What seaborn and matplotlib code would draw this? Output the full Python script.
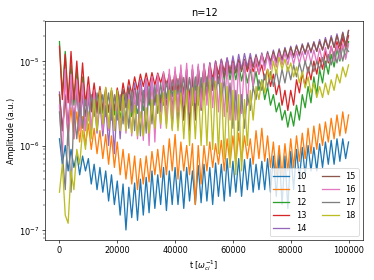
import matplotlib
matplotlib.use("Agg")
import matplotlib.pyplot as plt
import numpy as np
import pandas as pd
import seaborn as sns

# time grid, one sample every 1000 1/omega_ci
t = np.arange(0, 100001, 1000)

# amplitudes in units of 1e-6 a.u.
amp_10 = [1.2, 0.6, 1.0, 0.5, 0.9, 0.55, 0.8, 0.45, 0.75, 0.5,
          0.7, 0.35, 0.6, 0.3, 0.55, 0.28, 0.5, 0.22, 0.45, 0.2,
          0.38, 0.15, 0.35, 0.1, 0.32, 0.14, 0.36, 0.13, 0.4, 0.15,
          0.42, 0.16, 0.5, 0.18, 0.45, 0.2, 0.55, 0.17, 0.5, 0.2,
          0.55, 0.2, 0.5, 0.18, 0.55, 0.22, 0.5, 0.2, 0.58, 0.21,
          0.6, 0.22, 0.55, 0.2, 0.62, 0.25, 0.6, 0.22, 0.7, 0.25,
          0.65, 0.28, 0.7, 0.25, 0.68, 0.3, 0.7, 0.28, 0.6, 0.3,
          0.65, 0.3, 0.7, 0.28, 0.75, 0.25, 0.8, 0.2, 0.75, 0.18,
          0.85, 0.3, 0.9, 0.4, 0.95, 0.45, 1.0, 0.5, 0.95, 0.5,
          1.05, 0.55, 1.1, 0.6, 1.15, 0.6, 1.2, 0.65, 1.2, 0.7,
          1.1]
amp_11 = [4.0, 1.5, 3.5, 1.3, 2.8, 1.2, 2.5, 1.1, 2.2, 1.0,
          1.8, 0.9, 1.6, 0.8, 1.5, 0.7, 1.35, 0.6, 1.3, 0.55,
          1.1, 0.45, 0.9, 0.4, 0.8, 0.35, 0.75, 0.3, 0.7, 0.35,
          0.75, 0.37, 0.85, 0.45, 0.9, 0.42, 1.0, 0.45, 1.2, 0.5,
          1.35, 0.4, 1.1, 0.5, 1.0, 0.45, 1.05, 0.2, 1.0, 0.35,
          1.0, 0.5, 1.1, 0.55, 1.05, 0.6, 1.15, 0.5, 1.2, 0.6,
          1.3, 0.6, 1.4, 0.65, 1.3, 0.7, 1.2, 0.6, 1.5, 0.7,
          1.6, 0.65, 1.3, 0.55, 1.1, 0.45, 1.0, 0.43, 1.05, 0.5,
          1.2, 0.55, 1.3, 0.65, 1.4, 0.7, 1.6, 0.8, 1.7, 0.9,
          1.8, 1.0, 1.9, 1.1, 2.1, 1.2, 2.3, 1.3, 2.5, 1.4,
          2.3]
amp_12 = [17, 4.0, 13, 3.5, 9.0, 3.0, 8.0, 3.0, 6.5, 3.0,
          5.0, 2.6, 4.5, 2.5, 4.2, 2.4, 4.0, 2.5, 3.8, 2.3,
          3.6, 2.1, 3.5, 2.0, 3.4, 2.2, 3.5, 2.4, 3.8, 2.6,
          4.5, 3.0, 5.0, 3.2, 5.5, 3.5, 6.0, 3.6, 6.2, 3.8,
          6.5, 4.0, 7.0, 4.2, 7.2, 3.8, 7.5, 4.5, 8.0, 4.8,
          8.2, 5.0, 8.5, 5.5, 9.0, 5.5, 9.5, 6.0, 9.5, 6.0,
          9.0, 6.0, 9.2, 5.8, 8.5, 5.5, 8.0, 5.0, 7.5, 4.5,
          6.0, 3.5, 5.0, 3.0, 4.0, 2.5, 3.2, 2.0, 2.6, 1.65,
          2.5, 1.7, 3.0, 2.0, 4.0, 2.8, 5.0, 3.2, 6.5, 4.0,
          8.0, 5.5, 10, 7.0, 12, 8.5, 14, 10, 15, 11,
          17]
amp_13 = [15, 3.5, 12, 3.2, 13, 3.5, 10, 3.2, 9.5, 3.0,
          6.5, 3.0, 5.5, 2.8, 5.0, 2.6, 4.8, 2.5, 4.5, 2.6,
          4.8, 3.0, 5.5, 3.5, 6.0, 4.0, 6.5, 4.5, 7.0, 5.0,
          7.2, 5.0, 7.3, 5.2, 7.2, 5.5, 7.3, 5.0, 7.0, 4.5,
          7.5, 4.5, 7.8, 4.0, 8.0, 3.5, 8.0, 3.2, 8.5, 3.5,
          9.0, 5.0, 9.5, 6.0, 10, 7.0, 10.5, 7.5, 10.7, 7.7,
          10.5, 7.8, 10.5, 8.0, 10, 7.5, 10, 7.5, 9.5, 7.0,
          9.0, 6.0, 8.0, 5.0, 7.0, 4.0, 5.5, 3.0, 4.5, 2.6,
          4.5, 3.0, 6.0, 4.2, 7.2, 5.0, 8.5, 6.0, 10, 7.0,
          11, 8.0, 13, 9.5, 15, 11, 17, 13, 19, 14,
          20]
amp_14 = [4.3, 1.5, 4.0, 1.3, 5.0, 1.5, 4.5, 1.6, 4.0, 1.5,
          3.8, 1.5, 3.5, 1.4, 3.2, 1.3, 3.0, 1.0, 3.2, 0.8,
          3.5, 1.2, 4.0, 1.8, 5.0, 2.5, 5.5, 3.0, 6.0, 3.5,
          6.2, 3.5, 6.5, 3.0, 6.5, 2.5, 6.8, 1.8, 7.0, 1.6,
          7.2, 1.7, 7.5, 2.0, 7.8, 1.6, 8.0, 2.5, 8.5, 3.0,
          9.0, 3.5, 9.5, 4.5, 10, 5.5, 10.5, 6.5, 11, 7.0,
          11.5, 7.5, 12, 8.0, 12.3, 8.5, 12.3, 8.5, 12, 8.5,
          12.5, 8.5, 13, 9.0, 13.5, 9.5, 14, 10, 14.5, 10.5,
          15, 11, 15.5, 11.5, 16, 12, 16.5, 12.5, 17, 13,
          18, 13.5, 19, 14, 20, 14.5, 21, 15, 22, 15,
          23]
amp_15 = [4.0, 1.5, 3.8, 1.8, 4.5, 2.0, 4.2, 2.2, 4.5, 2.2,
          4.5, 2.5, 4.3, 2.4, 4.5, 2.6, 4.4, 2.5, 4.5, 2.6,
          4.5, 2.6, 4.6, 2.8, 4.8, 3.0, 4.7, 3.2, 4.8, 3.2,
          4.9, 3.2, 4.8, 3.3, 5.0, 3.2, 5.2, 3.0, 5.5, 2.8,
          6.0, 2.6, 6.5, 2.0, 6.8, 1.5, 7.0, 2.0, 7.5, 2.6,
          8.0, 3.5, 8.5, 4.5, 9.0, 5.5, 9.2, 6.5, 9.4, 7.2,
          9.5, 7.2, 10, 7.5, 10.5, 8.0, 11, 8.5, 11.5, 9.0,
          12, 9.5, 12.5, 10, 13, 10, 13.5, 10.5, 14, 11,
          14.5, 11.5, 15, 12, 15.5, 12.5, 16, 13, 16.5, 13,
          17, 13.5, 18, 14, 19, 14.5, 20, 15, 21.5, 15.5,
          23]
amp_16 = [3.0, 0.7, 8.0, 1.0, 7.0, 1.2, 6.0, 1.5, 5.5, 1.5,
          5.0, 1.5, 4.5, 1.6, 4.2, 1.5, 4.0, 1.5, 3.8, 1.6,
          3.7, 1.5, 3.8, 1.4, 4.0, 1.3, 4.5, 1.2, 5.0, 1.15,
          6.0, 1.0, 6.5, 1.1, 7.0, 1.6, 7.5, 2.0, 8.0, 2.2,
          8.5, 2.5, 9.0, 3.0, 9.4, 2.5, 9.0, 3.2, 9.2, 2.8,
          9.4, 3.0, 9.0, 2.8, 9.2, 2.5, 9.4, 2.2, 9.5, 2.0,
          9.4, 2.0, 9.5, 2.4, 10, 3.0, 10.5, 5.0, 11, 7.0,
          12, 7.8, 12, 8.0, 12, 8.5, 12.5, 9.0, 12.5, 9.0,
          13, 9.2, 13, 9.4, 13, 9.4, 13.5, 9.5, 13.5, 9.5,
          14, 9.8, 14.5, 10, 15, 10, 15.5, 10.5, 16, 10.5,
          16]
amp_17 = [2.5, 0.8, 0.3, 1.8, 0.28, 2.5, 1.2, 3.2, 1.6, 3.5,
          2.0, 4.0, 2.2, 4.2, 2.4, 4.0, 2.2, 4.2, 2.0, 4.0,
          2.0, 4.0, 1.8, 4.2, 1.6, 4.5, 1.5, 4.5, 1.3, 4.5,
          1.4, 5.0, 1.8, 5.2, 2.4, 5.5, 3.0, 5.8, 3.5, 6.0,
          3.8, 6.2, 4.0, 6.4, 3.5, 6.4, 3.0, 6.5, 3.0, 6.4,
          3.5, 6.5, 4.0, 6.4, 4.5, 6.2, 3.5, 6.0, 2.5, 5.5,
          1.6, 4.5, 1.5, 4.0, 1.6, 4.0, 2.6, 5.0, 3.5, 6.0,
          4.5, 7.0, 4.9, 7.5, 5.0, 7.8, 5.2, 8.0, 5.5, 8.5,
          6.0, 9.0, 6.5, 9.5, 7.0, 10, 7.2, 10, 7.5, 10,
          8.0, 11, 8.5, 12, 9.0, 13, 9.5, 14, 10, 14.5,
          13]
amp_18 = [0.28, 0.6, 0.15, 0.12, 0.5, 0.3, 0.9, 0.6, 1.5, 0.9,
          2.5, 1.2, 3.5, 1.5, 4.5, 1.8, 4.9, 1.6, 4.8, 1.5,
          4.5, 1.5, 4.0, 1.5, 3.5, 1.4, 3.0, 1.3, 2.5, 1.3,
          2.8, 1.4, 3.5, 1.6, 4.0, 1.8, 4.2, 1.6, 4.5, 1.5,
          4.5, 1.5, 4.2, 1.2, 4.5, 1.0, 4.8, 1.2, 5.0, 1.0,
          5.5, 1.0, 6.0, 0.9, 5.8, 0.8, 5.5, 0.7, 5.0, 0.55,
          4.5, 0.45, 4.0, 0.5, 3.5, 1.0, 4.5, 2.0, 5.0, 3.5,
          5.9, 4.2, 8.0, 6.0, 10, 7.0, 11, 8.0, 10.5, 7.5,
          9.5, 6.5, 8.5, 5.5, 7.5, 4.8, 6.5, 4.2, 5.5, 3.7,
          5.0, 3.7, 5.5, 4.0, 6.0, 4.5, 7.0, 5.5, 8.5, 6.5,
          9.0]

modes = ["10", "11", "12", "13", "14", "15", "16", "17", "18"]
series = [amp_10, amp_11, amp_12, amp_13, amp_14, amp_15, amp_16, amp_17, amp_18]

frames = []
for mode, vals in zip(modes, series):
    frames.append(pd.DataFrame({"t": t, "amp": np.array(vals) * 1e-6, "mode": mode}))
df = pd.concat(frames, ignore_index=True)

fig, ax = plt.subplots(figsize=(6.4, 4.8), dpi=374 / 6.4)
fig.subplots_adjust(left=45 / 374, right=363 / 374, top=1 - 21 / 280, bottom=1 - 240 / 280)
sns.lineplot(data=df, x="t", y="amp", hue="mode", hue_order=modes,
             palette="tab10", estimator=None, sort=False, linewidth=1.6, ax=ax)
ax.set_yscale("log")
ax.set_title("n=12")
ax.set_xlabel(r"t [$\omega_{ci}^{-1}$]")
ax.set_ylabel("Amplitude (a.u.)")
handles, labels = ax.get_legend_handles_labels()
ax.legend(handles, labels, ncol=2, loc="lower right")

fig.savefig("out.png", dpi=374 / 6.4)
plt.close(fig)
